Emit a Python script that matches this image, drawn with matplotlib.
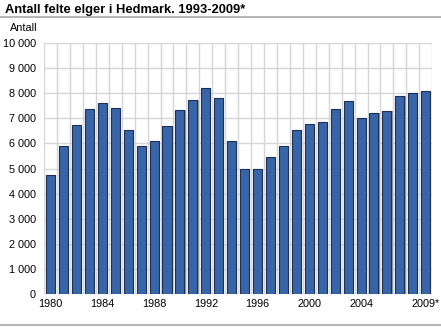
import matplotlib.pyplot as plt
import matplotlib.lines as mlines
from matplotlib.ticker import FuncFormatter, MultipleLocator
import numpy as np

plt.rcParams['font.family'] = ['Liberation Sans', 'DejaVu Sans']

years = list(range(1980, 2010))
felte = [4750, 5880, 6740, 7370, 7620, 7420, 6550, 5910, 6100, 6690,
         7340, 7720, 8220, 7830, 6100, 5000, 5000, 5460, 5910, 6520,
         6770, 6840, 7390, 7680, 7030, 7200, 7290, 7910, 8030, 8080]
tick_years = [1980, 1984, 1988, 1992, 1996, 2000, 2004, 2009]
tick_labels = ['1980', '1984', '1988', '1992', '1996', '2000', '2004', '2009*']

fig = plt.figure(figsize=(4.41, 3.27), dpi=100)
ax = fig.add_axes([0.1, 0.101, 0.88, 0.767])

x = np.arange(len(years))
grid_col = '#d6d6d6'

# category separators and horizontal grid
for b in np.arange(-0.5, len(years) + 0.5, 1):
    ax.axvline(b, color=grid_col, lw=1, zorder=0)
ax.yaxis.set_major_locator(MultipleLocator(1000))
ax.grid(axis='y', color=grid_col, lw=1, zorder=0)
ax.set_axisbelow(True)

# soft shadow behind each bar, then the bar itself
ax.bar(x + 0.09, felte, width=0.7, color='#9a9a9a', zorder=2, linewidth=0)
ax.bar(x, felte, width=0.7, color='#3864a8', edgecolor='#1c2f55',
       linewidth=0.8, zorder=3)

ax.set_xlim(-0.5, len(years) - 0.5)
ax.set_ylim(0, 10000)
ax.set_xticks([years.index(y) for y in tick_years])
ax.set_xticklabels(tick_labels)
ax.yaxis.set_major_formatter(FuncFormatter(lambda v, p: f'{int(v):,}'.replace(',', ' ')))
ax.tick_params(axis='both', length=0, labelsize=7.8, colors='#000000')
ax.tick_params(axis='y', pad=6)
ax.tick_params(axis='x', pad=3.5)
for s in ax.spines.values():
    s.set_visible(False)

fig.text(0.012, 0.968, 'Antall felte elger i Hedmark. 1993-2009*',
         fontsize=9.3, fontweight='bold', va='center', ha='left')
fig.text(0.085, 0.914, 'Antall', fontsize=7.8, va='center', ha='right')

fig.add_artist(mlines.Line2D([0, 1], [0.949, 0.949], color='#a8a8a8', lw=1.2))
fig.add_artist(mlines.Line2D([0, 1], [0.006, 0.006], color='#a8a8a8', lw=1.2))

fig.savefig('out.png', dpi=100)
